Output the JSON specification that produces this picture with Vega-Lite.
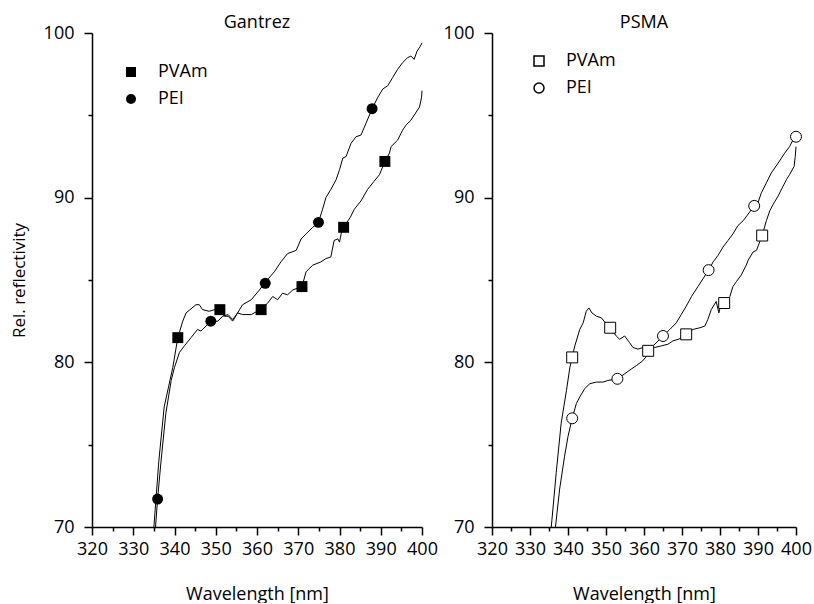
{
  "$schema": "https://vega.github.io/schema/vega-lite/v6.json",
  "background": "white",
  "padding": {"left": 10, "top": 14, "right": 2, "bottom": 0},
  "spacing": 5,
  "config": {
    "view": {"stroke": null},
    "font": "Open Sans",
    "axis": {
      "labelFont": "Open Sans", "labelFontSize": 18, "labelColor": "black",
      "titleFont": "Open Sans", "titleFontSize": 18, "titleFontWeight": "normal", "titleColor": "black",
      "domainColor": "black", "domainWidth": 1.5, "tickColor": "black", "tickWidth": 1.5,
      "grid": false
    },
    "title": {"font": "Open Sans", "fontSize": 18, "fontWeight": "normal", "color": "black", "offset": -8}
  },
  "datasets": {
    "g_line": [
      {"polymer": "PVAm", "nm": 335.0, "r": 70.0},
      {"polymer": "PVAm", "nm": 336.2, "r": 74.0},
      {"polymer": "PVAm", "nm": 337.5, "r": 77.3},
      {"polymer": "PVAm", "nm": 339.6, "r": 79.7},
      {"polymer": "PVAm", "nm": 340.8, "r": 81.5},
      {"polymer": "PVAm", "nm": 342.0, "r": 82.5},
      {"polymer": "PVAm", "nm": 342.8, "r": 83.0},
      {"polymer": "PVAm", "nm": 345.2, "r": 83.5},
      {"polymer": "PVAm", "nm": 346.0, "r": 83.5},
      {"polymer": "PVAm", "nm": 346.8, "r": 83.2},
      {"polymer": "PVAm", "nm": 348.4, "r": 83.1},
      {"polymer": "PVAm", "nm": 349.7, "r": 83.2},
      {"polymer": "PVAm", "nm": 350.9, "r": 83.2},
      {"polymer": "PVAm", "nm": 352.1, "r": 82.8},
      {"polymer": "PVAm", "nm": 353.0, "r": 82.8},
      {"polymer": "PVAm", "nm": 354.1, "r": 82.5},
      {"polymer": "PVAm", "nm": 355.3, "r": 83.0},
      {"polymer": "PVAm", "nm": 356.5, "r": 82.9},
      {"polymer": "PVAm", "nm": 358.6, "r": 82.9},
      {"polymer": "PVAm", "nm": 360.8, "r": 83.2},
      {"polymer": "PVAm", "nm": 362.6, "r": 83.6},
      {"polymer": "PVAm", "nm": 363.8, "r": 84.0},
      {"polymer": "PVAm", "nm": 365.0, "r": 83.8},
      {"polymer": "PVAm", "nm": 366.2, "r": 84.2},
      {"polymer": "PVAm", "nm": 367.4, "r": 84.1},
      {"polymer": "PVAm", "nm": 368.7, "r": 84.4},
      {"polymer": "PVAm", "nm": 370.9, "r": 84.6},
      {"polymer": "PVAm", "nm": 371.9, "r": 85.5},
      {"polymer": "PVAm", "nm": 373.5, "r": 85.9},
      {"polymer": "PVAm", "nm": 375.5, "r": 86.1},
      {"polymer": "PVAm", "nm": 376.7, "r": 86.3},
      {"polymer": "PVAm", "nm": 377.9, "r": 86.4},
      {"polymer": "PVAm", "nm": 378.7, "r": 87.4},
      {"polymer": "PVAm", "nm": 379.6, "r": 87.5},
      {"polymer": "PVAm", "nm": 380.0, "r": 87.3},
      {"polymer": "PVAm", "nm": 380.4, "r": 87.8},
      {"polymer": "PVAm", "nm": 381.0, "r": 88.2},
      {"polymer": "PVAm", "nm": 382.6, "r": 88.8},
      {"polymer": "PVAm", "nm": 383.6, "r": 89.3},
      {"polymer": "PVAm", "nm": 385.2, "r": 89.8},
      {"polymer": "PVAm", "nm": 386.8, "r": 90.5},
      {"polymer": "PVAm", "nm": 388.4, "r": 91.0},
      {"polymer": "PVAm", "nm": 389.7, "r": 91.4},
      {"polymer": "PVAm", "nm": 391.0, "r": 92.2},
      {"polymer": "PVAm", "nm": 392.1, "r": 92.7},
      {"polymer": "PVAm", "nm": 392.5, "r": 93.1},
      {"polymer": "PVAm", "nm": 394.1, "r": 93.5},
      {"polymer": "PVAm", "nm": 395.3, "r": 94.1},
      {"polymer": "PVAm", "nm": 396.1, "r": 94.4},
      {"polymer": "PVAm", "nm": 397.3, "r": 94.7},
      {"polymer": "PVAm", "nm": 398.6, "r": 95.2},
      {"polymer": "PVAm", "nm": 399.4, "r": 95.5},
      {"polymer": "PVAm", "nm": 399.9, "r": 96.1},
      {"polymer": "PVAm", "nm": 400.0, "r": 96.5},
      {"polymer": "PEI", "nm": 335.4, "r": 70.0},
      {"polymer": "PEI", "nm": 335.9, "r": 71.7},
      {"polymer": "PEI", "nm": 336.7, "r": 73.9},
      {"polymer": "PEI", "nm": 337.9, "r": 76.9},
      {"polymer": "PEI", "nm": 339.2, "r": 78.9},
      {"polymer": "PEI", "nm": 340.0, "r": 79.7},
      {"polymer": "PEI", "nm": 341.2, "r": 80.6},
      {"polymer": "PEI", "nm": 342.4, "r": 81.0},
      {"polymer": "PEI", "nm": 344.0, "r": 81.5},
      {"polymer": "PEI", "nm": 345.6, "r": 82.0},
      {"polymer": "PEI", "nm": 346.4, "r": 81.9},
      {"polymer": "PEI", "nm": 348.8, "r": 82.5},
      {"polymer": "PEI", "nm": 350.5, "r": 82.5},
      {"polymer": "PEI", "nm": 351.7, "r": 82.8},
      {"polymer": "PEI", "nm": 353.0, "r": 82.9},
      {"polymer": "PEI", "nm": 354.1, "r": 82.6},
      {"polymer": "PEI", "nm": 355.3, "r": 83.0},
      {"polymer": "PEI", "nm": 356.5, "r": 83.5},
      {"polymer": "PEI", "nm": 358.6, "r": 83.8},
      {"polymer": "PEI", "nm": 360.6, "r": 84.4},
      {"polymer": "PEI", "nm": 361.8, "r": 84.8},
      {"polymer": "PEI", "nm": 364.2, "r": 85.5},
      {"polymer": "PEI", "nm": 365.8, "r": 86.1},
      {"polymer": "PEI", "nm": 367.4, "r": 86.6},
      {"polymer": "PEI", "nm": 369.5, "r": 86.8},
      {"polymer": "PEI", "nm": 370.7, "r": 87.5},
      {"polymer": "PEI", "nm": 371.9, "r": 87.8},
      {"polymer": "PEI", "nm": 373.5, "r": 88.2},
      {"polymer": "PEI", "nm": 374.9, "r": 88.5},
      {"polymer": "PEI", "nm": 375.9, "r": 89.3},
      {"polymer": "PEI", "nm": 376.7, "r": 90.0},
      {"polymer": "PEI", "nm": 377.9, "r": 90.5},
      {"polymer": "PEI", "nm": 379.2, "r": 91.1},
      {"polymer": "PEI", "nm": 380.0, "r": 91.7},
      {"polymer": "PEI", "nm": 380.8, "r": 92.4},
      {"polymer": "PEI", "nm": 381.6, "r": 92.5},
      {"polymer": "PEI", "nm": 382.8, "r": 93.3},
      {"polymer": "PEI", "nm": 384.0, "r": 93.7},
      {"polymer": "PEI", "nm": 385.2, "r": 93.8},
      {"polymer": "PEI", "nm": 386.4, "r": 94.5},
      {"polymer": "PEI", "nm": 387.9, "r": 95.4},
      {"polymer": "PEI", "nm": 389.3, "r": 96.1},
      {"polymer": "PEI", "nm": 390.5, "r": 96.6},
      {"polymer": "PEI", "nm": 391.7, "r": 96.8},
      {"polymer": "PEI", "nm": 392.9, "r": 97.3},
      {"polymer": "PEI", "nm": 394.1, "r": 97.8},
      {"polymer": "PEI", "nm": 395.3, "r": 98.2},
      {"polymer": "PEI", "nm": 396.5, "r": 98.5},
      {"polymer": "PEI", "nm": 397.3, "r": 98.6},
      {"polymer": "PEI", "nm": 398.1, "r": 98.4},
      {"polymer": "PEI", "nm": 398.8, "r": 98.9},
      {"polymer": "PEI", "nm": 399.6, "r": 99.2},
      {"polymer": "PEI", "nm": 400.0, "r": 99.4}
    ],
    "g_pts": [
      {"series": "PVAm", "nm": 340.8, "r": 81.5},
      {"series": "PVAm", "nm": 351.0, "r": 83.2},
      {"series": "PVAm", "nm": 361.0, "r": 83.2},
      {"series": "PVAm", "nm": 370.9, "r": 84.6},
      {"series": "PVAm", "nm": 381.0, "r": 88.2},
      {"series": "PVAm", "nm": 391.0, "r": 92.2},
      {"series": "PEI", "nm": 335.9, "r": 71.7},
      {"series": "PEI", "nm": 348.8, "r": 82.5},
      {"series": "PEI", "nm": 362.0, "r": 84.8},
      {"series": "PEI", "nm": 374.9, "r": 88.5},
      {"series": "PEI", "nm": 387.9, "r": 95.4}
    ],
    "p_line": [
      {"polymer": "PVAm", "nm": 335.6, "r": 70.0},
      {"polymer": "PVAm", "nm": 336.9, "r": 73.3},
      {"polymer": "PVAm", "nm": 338.2, "r": 76.3},
      {"polymer": "PVAm", "nm": 339.6, "r": 78.3},
      {"polymer": "PVAm", "nm": 340.5, "r": 79.7},
      {"polymer": "PVAm", "nm": 341.1, "r": 80.3},
      {"polymer": "PVAm", "nm": 341.8, "r": 81.0},
      {"polymer": "PVAm", "nm": 343.1, "r": 82.0},
      {"polymer": "PVAm", "nm": 344.0, "r": 82.4},
      {"polymer": "PVAm", "nm": 344.8, "r": 83.1},
      {"polymer": "PVAm", "nm": 345.5, "r": 83.3},
      {"polymer": "PVAm", "nm": 346.3, "r": 83.0},
      {"polymer": "PVAm", "nm": 347.5, "r": 82.8},
      {"polymer": "PVAm", "nm": 348.8, "r": 82.7},
      {"polymer": "PVAm", "nm": 349.8, "r": 82.4},
      {"polymer": "PVAm", "nm": 351.1, "r": 82.1},
      {"polymer": "PVAm", "nm": 352.7, "r": 81.6},
      {"polymer": "PVAm", "nm": 353.6, "r": 81.4},
      {"polymer": "PVAm", "nm": 354.9, "r": 81.6},
      {"polymer": "PVAm", "nm": 356.2, "r": 81.2},
      {"polymer": "PVAm", "nm": 357.1, "r": 80.9},
      {"polymer": "PVAm", "nm": 358.4, "r": 80.8},
      {"polymer": "PVAm", "nm": 359.7, "r": 80.9},
      {"polymer": "PVAm", "nm": 361.1, "r": 80.7},
      {"polymer": "PVAm", "nm": 362.8, "r": 80.9},
      {"polymer": "PVAm", "nm": 364.6, "r": 81.0},
      {"polymer": "PVAm", "nm": 366.3, "r": 81.1},
      {"polymer": "PVAm", "nm": 367.6, "r": 81.3},
      {"polymer": "PVAm", "nm": 369.0, "r": 81.4},
      {"polymer": "PVAm", "nm": 370.0, "r": 81.5},
      {"polymer": "PVAm", "nm": 371.1, "r": 81.7},
      {"polymer": "PVAm", "nm": 372.9, "r": 82.0},
      {"polymer": "PVAm", "nm": 374.7, "r": 82.1},
      {"polymer": "PVAm", "nm": 376.0, "r": 82.2},
      {"polymer": "PVAm", "nm": 376.8, "r": 82.6},
      {"polymer": "PVAm", "nm": 377.7, "r": 83.2},
      {"polymer": "PVAm", "nm": 379.0, "r": 83.7},
      {"polymer": "PVAm", "nm": 379.7, "r": 83.0},
      {"polymer": "PVAm", "nm": 380.3, "r": 83.6},
      {"polymer": "PVAm", "nm": 381.1, "r": 83.6},
      {"polymer": "PVAm", "nm": 382.6, "r": 84.0},
      {"polymer": "PVAm", "nm": 383.4, "r": 84.6},
      {"polymer": "PVAm", "nm": 384.3, "r": 84.9},
      {"polymer": "PVAm", "nm": 385.6, "r": 85.3},
      {"polymer": "PVAm", "nm": 386.9, "r": 85.9},
      {"polymer": "PVAm", "nm": 387.4, "r": 86.2},
      {"polymer": "PVAm", "nm": 388.7, "r": 86.7},
      {"polymer": "PVAm", "nm": 389.6, "r": 86.8},
      {"polymer": "PVAm", "nm": 391.1, "r": 87.7},
      {"polymer": "PVAm", "nm": 392.2, "r": 88.6},
      {"polymer": "PVAm", "nm": 393.1, "r": 89.2},
      {"polymer": "PVAm", "nm": 394.0, "r": 89.6},
      {"polymer": "PVAm", "nm": 395.3, "r": 90.1},
      {"polymer": "PVAm", "nm": 396.6, "r": 90.7},
      {"polymer": "PVAm", "nm": 397.5, "r": 91.1},
      {"polymer": "PVAm", "nm": 398.3, "r": 91.4},
      {"polymer": "PVAm", "nm": 399.5, "r": 91.9},
      {"polymer": "PVAm", "nm": 399.8, "r": 92.5},
      {"polymer": "PVAm", "nm": 400.0, "r": 93.1},
      {"polymer": "PEI", "nm": 336.7, "r": 70.0},
      {"polymer": "PEI", "nm": 337.8, "r": 72.3},
      {"polymer": "PEI", "nm": 339.1, "r": 74.3},
      {"polymer": "PEI", "nm": 340.0, "r": 75.5},
      {"polymer": "PEI", "nm": 341.1, "r": 76.6},
      {"polymer": "PEI", "nm": 342.2, "r": 77.5},
      {"polymer": "PEI", "nm": 343.1, "r": 77.9},
      {"polymer": "PEI", "nm": 344.4, "r": 78.4},
      {"polymer": "PEI", "nm": 345.7, "r": 78.7},
      {"polymer": "PEI", "nm": 347.5, "r": 78.8},
      {"polymer": "PEI", "nm": 349.2, "r": 78.8},
      {"polymer": "PEI", "nm": 350.5, "r": 78.9},
      {"polymer": "PEI", "nm": 353.0, "r": 79.0},
      {"polymer": "PEI", "nm": 354.9, "r": 79.3},
      {"polymer": "PEI", "nm": 356.7, "r": 79.6},
      {"polymer": "PEI", "nm": 358.0, "r": 79.8},
      {"polymer": "PEI", "nm": 359.7, "r": 80.1},
      {"polymer": "PEI", "nm": 361.1, "r": 80.5},
      {"polymer": "PEI", "nm": 362.4, "r": 81.0},
      {"polymer": "PEI", "nm": 363.7, "r": 81.3},
      {"polymer": "PEI", "nm": 365.0, "r": 81.6},
      {"polymer": "PEI", "nm": 366.8, "r": 82.0},
      {"polymer": "PEI", "nm": 368.5, "r": 82.4},
      {"polymer": "PEI", "nm": 369.8, "r": 82.9},
      {"polymer": "PEI", "nm": 371.1, "r": 83.4},
      {"polymer": "PEI", "nm": 372.5, "r": 84.0},
      {"polymer": "PEI", "nm": 374.2, "r": 84.6},
      {"polymer": "PEI", "nm": 377.0, "r": 85.6},
      {"polymer": "PEI", "nm": 378.2, "r": 86.1},
      {"polymer": "PEI", "nm": 379.5, "r": 86.5},
      {"polymer": "PEI", "nm": 380.8, "r": 87.0},
      {"polymer": "PEI", "nm": 382.1, "r": 87.4},
      {"polymer": "PEI", "nm": 383.4, "r": 87.8},
      {"polymer": "PEI", "nm": 384.7, "r": 88.3},
      {"polymer": "PEI", "nm": 386.1, "r": 88.6},
      {"polymer": "PEI", "nm": 389.0, "r": 89.5},
      {"polymer": "PEI", "nm": 390.0, "r": 89.7},
      {"polymer": "PEI", "nm": 390.9, "r": 90.3},
      {"polymer": "PEI", "nm": 392.2, "r": 90.9},
      {"polymer": "PEI", "nm": 393.5, "r": 91.5},
      {"polymer": "PEI", "nm": 395.3, "r": 92.1},
      {"polymer": "PEI", "nm": 397.0, "r": 92.7},
      {"polymer": "PEI", "nm": 398.3, "r": 93.1},
      {"polymer": "PEI", "nm": 399.2, "r": 93.5},
      {"polymer": "PEI", "nm": 399.5, "r": 93.9},
      {"polymer": "PEI", "nm": 400.0, "r": 94.0}
    ],
    "p_pts": [
      {"series": "PVAm", "nm": 341.1, "r": 80.3},
      {"series": "PVAm", "nm": 351.1, "r": 82.1},
      {"series": "PVAm", "nm": 361.1, "r": 80.7},
      {"series": "PVAm", "nm": 371.1, "r": 81.7},
      {"series": "PVAm", "nm": 381.1, "r": 83.6},
      {"series": "PVAm", "nm": 391.1, "r": 87.7},
      {"series": "PEI", "nm": 341.1, "r": 76.6},
      {"series": "PEI", "nm": 353.0, "r": 79.0},
      {"series": "PEI", "nm": 365.0, "r": 81.6},
      {"series": "PEI", "nm": 377.0, "r": 85.6},
      {"series": "PEI", "nm": 389.0, "r": 89.5},
      {"series": "PEI", "nm": 400.0, "r": 93.7}
    ]
  },
  "hconcat": [
    {
      "width": 330, "height": 494,
      "title": {"text": "Gantrez"},
      "layer": [
        {
          "data": {"name": "g_line"},
          "mark": {"type": "line", "color": "black", "strokeWidth": 1},
          "encoding": {
            "x": {"field": "nm", "type": "quantitative", "scale": {"domain": [320, 400], "nice": false, "zero": false},
              "axis": {"orient": "bottom", "title": "Wavelength [nm]", "values": [320,330,340,350,360,370,380,390,400],
                "labelFlush": false, "labelOverlap": false, "ticks": false, "labelPadding": 13, "titlePadding": 27}},
            "y": {"field": "r", "type": "quantitative", "scale": {"domain": [70, 100], "nice": false, "zero": false},
              "axis": {"orient": "left", "title": "Rel. reflectivity", "values": [70,80,90,100],
                "labelOverlap": false, "ticks": false, "labelPadding": 18, "titlePadding": 15, "titleFontSize": 17}},
            "detail": {"field": "polymer"}
          }
        },
        {
          "data": {"name": "g_pts"},
          "mark": {"type": "point", "filled": true, "color": "black", "size": 120, "opacity": 1},
          "encoding": {
            "x": {"field": "nm", "type": "quantitative",
              "axis": {"orient": "bottom", "title": null, "values": [320,330,340,350,360,370,380,390,400], "labels": false, "domain": false, "ticks": true, "tickSize": 8,
                "encode": {"ticks": {"y2": {"value": 8}}}}},
            "y": {"field": "r", "type": "quantitative",
              "axis": {"orient": "left", "title": null, "values": [70,80,90,100], "labels": false, "domain": false, "ticks": true, "tickSize": 8,
                "encode": {"ticks": {"x2": {"value": -8}}}}},
            "shape": {"field": "series", "type": "nominal",
              "scale": {"domain": ["PVAm", "PEI"], "range": ["square", "circle"]},
              "legend": {"title": null, "orient": "none", "legendX": 30, "legendY": 30, "symbolSize": 100, "labelOffset": 18, "rowPadding": 9,
                "labelFont": "Open Sans", "labelFontSize": 18, "labelColor": "black"}}
          }
        },
        {
          "data": {"name": "g_pts"},
          "mark": {"type": "point", "opacity": 0},
          "encoding": {
            "x": {"field": "nm", "type": "quantitative",
              "axis": {"orient": "bottom", "title": null, "values": [325,335,345,355,365,375,385,395], "labels": false, "domain": false, "ticks": true, "tickSize": 4,
                "encode": {"ticks": {"y2": {"value": 4}}}}},
            "y": {"field": "r", "type": "quantitative",
              "axis": {"orient": "left", "title": null, "values": [75,85,95], "labels": false, "domain": false, "ticks": true, "tickSize": 4,
                "encode": {"ticks": {"x2": {"value": -4}}}}}
          }
        }
      ],
      "resolve": {"axis": {"x": "independent", "y": "independent"}}
    },
    {
      "width": 304, "height": 494,
      "title": {"text": "PSMA"},
      "layer": [
        {
          "data": {"name": "p_line"},
          "mark": {"type": "line", "color": "black", "strokeWidth": 1},
          "encoding": {
            "x": {"field": "nm", "type": "quantitative", "scale": {"domain": [320, 400], "nice": false, "zero": false},
              "axis": {"orient": "bottom", "title": "Wavelength [nm]", "values": [320,330,340,350,360,370,380,390,400],
                "labelFlush": false, "labelOverlap": false, "ticks": false, "labelPadding": 13, "titlePadding": 27}},
            "y": {"field": "r", "type": "quantitative", "scale": {"domain": [70, 100], "nice": false, "zero": false},
              "axis": {"orient": "left", "title": null, "values": [70,80,90,100],
                "labelOverlap": false, "ticks": false, "labelPadding": 18}},
            "detail": {"field": "polymer"}
          }
        },
        {
          "data": {"name": "p_pts"},
          "mark": {"type": "point", "filled": false, "fill": "white", "stroke": "black", "strokeWidth": 1, "size": 120, "opacity": 1},
          "encoding": {
            "x": {"field": "nm", "type": "quantitative",
              "axis": {"orient": "bottom", "title": null, "values": [320,330,340,350,360,370,380,390,400], "labels": false, "domain": false, "ticks": true, "tickSize": 8,
                "encode": {"ticks": {"y2": {"value": 8}}}}},
            "y": {"field": "r", "type": "quantitative",
              "axis": {"orient": "left", "title": null, "values": [70,80,90,100], "labels": false, "domain": false, "ticks": true, "tickSize": 8,
                "encode": {"ticks": {"x2": {"value": -8}}}}},
            "shape": {"field": "series", "type": "nominal",
              "scale": {"domain": ["PVAm", "PEI"], "range": ["square", "circle"]},
              "legend": {"title": null, "orient": "none", "legendX": 38, "legendY": 19, "symbolSize": 100, "labelOffset": 18, "rowPadding": 9,
                "labelFont": "Open Sans", "labelFontSize": 18, "labelColor": "black"}}
          }
        },
        {
          "data": {"name": "p_pts"},
          "mark": {"type": "point", "opacity": 0},
          "encoding": {
            "x": {"field": "nm", "type": "quantitative",
              "axis": {"orient": "bottom", "title": null, "values": [325,335,345,355,365,375,385,395], "labels": false, "domain": false, "ticks": true, "tickSize": 4,
                "encode": {"ticks": {"y2": {"value": 4}}}}},
            "y": {"field": "r", "type": "quantitative",
              "axis": {"orient": "left", "title": null, "values": [75,85,95], "labels": false, "domain": false, "ticks": true, "tickSize": 4,
                "encode": {"ticks": {"x2": {"value": -4}}}}}
          }
        }
      ],
      "resolve": {"axis": {"x": "independent", "y": "independent"}}
    }
  ],
  "resolve": {"scale": {"shape": "independent"}, "legend": {"shape": "independent"}}
}
